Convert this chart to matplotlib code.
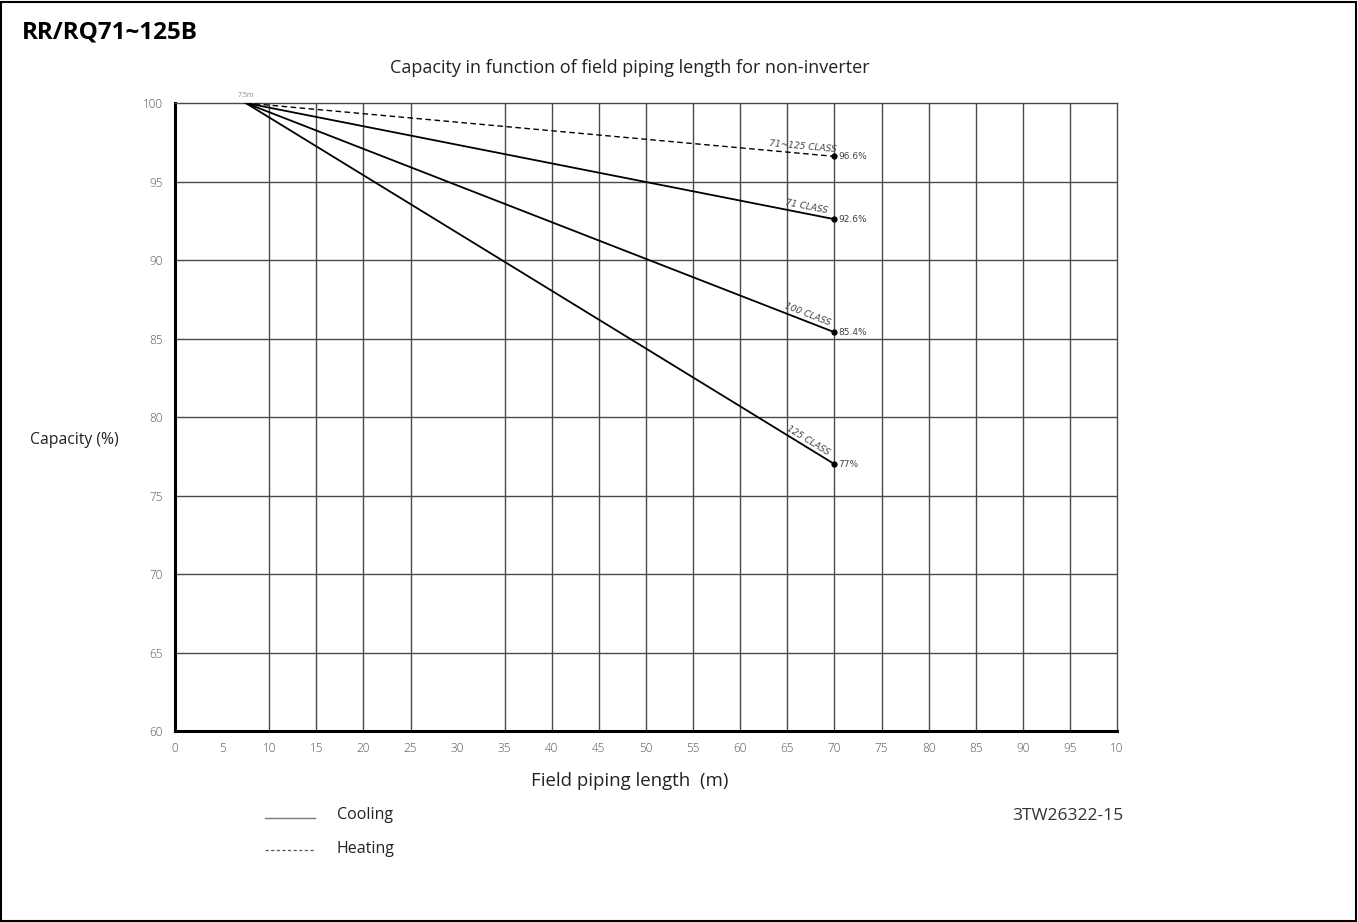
import numpy as np
import matplotlib
matplotlib.use('Agg')
import matplotlib.pyplot as plt
from matplotlib.patches import Rectangle

plt.rcParams['font.family'] = ['Open Sans', 'DejaVu Sans']

# data
length_m = [7.5, 70]
cooling_classes = ['71 CLASS', '100 CLASS', '125 CLASS']
cooling_end = [92.6, 85.4, 77.0]
cooling_end_labels = ['92.6%', '85.4%', '77%']
heating_class = '71~125 CLASS'
heating_end = 96.6
heating_end_label = '96.6%'
start_capacity = 100.0

x_ticks = list(range(0, 101, 5))
x_tick_labels = [str(v) for v in x_ticks[:-1]] + ['10']
y_ticks = list(range(60, 101, 5))
x_grid = [v for v in range(10, 100, 5) if v != 30]

fig = plt.figure(figsize=(13.58, 9.22), dpi=100)
ax = fig.add_axes([175/1358, 1-731/922, (1117-175)/1358, (731-103)/922])
ax.set_xlim(0, 100)
ax.set_ylim(60, 100)

grid_c = '#4a4a4a'
for gx in x_grid:
    ax.axvline(gx, color=grid_c, lw=1.0, zorder=1)
for gy in y_ticks[1:-1]:
    ax.axhline(gy, color=grid_c, lw=1.0, zorder=1)

for side in ['top', 'right']:
    ax.spines[side].set_linewidth(1.0)
    ax.spines[side].set_color(grid_c)
for side in ['left', 'bottom']:
    ax.spines[side].set_linewidth(2.2)
    ax.spines[side].set_color('black')

ax.set_xticks(x_ticks)
ax.set_xticklabels(x_tick_labels)
ax.set_yticks(y_ticks)
ax.tick_params(length=0, labelsize=8.5, labelcolor='#555555', pad=9)
ax.tick_params(axis='x', pad=8)
for t in ax.get_xticklabels() + ax.get_yticklabels():
    t.set_fontweight('light')

fig.canvas.draw()

def angle_of(x0, y0, x1, y1):
    p0 = ax.transData.transform((x0, y0))
    p1 = ax.transData.transform((x1, y1))
    return np.degrees(np.arctan2(p1[1]-p0[1], p1[0]-p0[0]))

lab_c = '#444444'
# heating (dashed)
ax.plot(length_m, [start_capacity, heating_end], color='black', lw=1.0,
        ls=(0, (4, 2.5)), zorder=3)
ax.plot(length_m[1], heating_end, 'o', color='black', ms=3.5, zorder=4)
ang = angle_of(length_m[0], start_capacity, length_m[1], heating_end)
xm = 66.6
ym = start_capacity + (heating_end-start_capacity)*(xm-length_m[0])/(length_m[1]-length_m[0])
ax.annotate(heating_class, (xm, ym), xytext=(0, 2), textcoords='offset points',
            rotation=ang, rotation_mode='anchor', ha='center', va='bottom',
            fontsize=6.5, color=lab_c, style='italic', family='DejaVu Sans')
ax.annotate(heating_end_label, (length_m[1], heating_end), xytext=(3, 0),
            textcoords='offset points', ha='left', va='center',
            fontsize=6.5, color=lab_c, family='DejaVu Sans')

# cooling (solid)
for name, yend, lab in zip(cooling_classes, cooling_end, cooling_end_labels):
    ax.plot(length_m, [start_capacity, yend], color='black', lw=1.3, zorder=3)
    ax.plot(length_m[1], yend, 'o', color='black', ms=3.5, zorder=4)
    ang = angle_of(length_m[0], start_capacity, length_m[1], yend)
    xm = 67.0
    ym = start_capacity + (yend-start_capacity)*(xm-length_m[0])/(length_m[1]-length_m[0])
    ax.annotate(name, (xm, ym), xytext=(0, 2), textcoords='offset points',
                rotation=ang, rotation_mode='anchor', ha='center', va='bottom',
                fontsize=6.5, color=lab_c, style='italic', family='DejaVu Sans')
    ax.annotate(lab, (length_m[1], yend), xytext=(3, 0),
                textcoords='offset points', ha='left', va='center',
                fontsize=6.5, color=lab_c, family='DejaVu Sans')

ax.annotate('7.5m', (length_m[0], start_capacity), xytext=(0, 3),
            textcoords='offset points', ha='center', va='bottom',
            fontsize=5, color='#888888', annotation_clip=False)

# texts around the chart
fig.text(22/1358, 1-32/922, 'RR/RQ71~125B', fontsize=17.5, fontweight='bold',
         ha='left', va='center')
fig.text(630/1358, 1-68/922, 'Capacity in function of field piping length for non-inverter',
         fontsize=13, ha='center', va='center', color='#222222')
fig.text(630/1358, 1-781/922, 'Field piping length  (m)', fontsize=13.4,
         ha='center', va='center', color='#222222')
fig.text(30/1358, 1-440/922, 'Capacity (%)', fontsize=11.3, ha='left',
         va='center', color='#222222')
fig.text(1123/1358, 1-816/922, '3TW26322-15', fontsize=12.5, ha='right',
         va='center', color='#333333')

# legend
fig.add_artist(plt.Line2D([265/1358, 315/1358], [1-818/922]*2, color='#777777', lw=1.0))
fig.add_artist(plt.Line2D([265/1358, 315/1358], [1-850/922]*2, color='#555555',
                          lw=0.9, ls=(0, (2.5, 2))))
fig.text(337/1358, 1-815/922, 'Cooling', fontsize=11.5, ha='left', va='center', color='#222222')
fig.text(337/1358, 1-849/922, 'Heating', fontsize=11.5, ha='left', va='center', color='#222222')

# outer frame
fig.add_artist(Rectangle((1/1358, 1/922), 1355/1358, 919/922, transform=fig.transFigure,
                         fill=False, ec='black', lw=1.5))

fig.savefig('out.png', dpi=100)
